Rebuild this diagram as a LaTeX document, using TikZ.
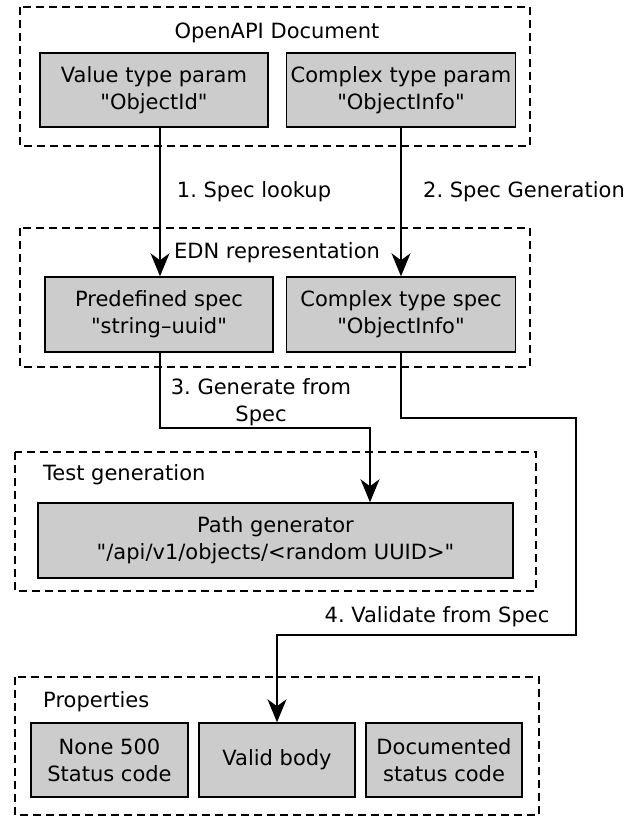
\documentclass[tikz,border=0pt]{standalone}
\usepackage{fontspec}
\newfontfamily\dvs{DejaVu Sans}
\usetikzlibrary{arrows.meta}
\definecolor{boxgray}{RGB}{204,204,204}
\tikzset{
  box/.style={draw=black, fill=boxgray, line width=1.5pt, inner sep=0pt, align=center},
  group/.style={draw=black, line width=1.5pt, dash pattern=on 8pt off 5pt},
  lbl/.style={inner sep=0pt, align=center},
  conn/.style={line width=1.5pt, -{Stealth[length=23pt,width=19pt,inset=7pt]}},
}
\begin{document}
\frenchspacing
\begin{tikzpicture}[x=1pt,y=-1pt,font=\dvs\fontsize{21}{27}\selectfont]
\useasboundingbox (0,0) rectangle (636,817);
% groups
\draw[group] (20,7) rectangle (530,146);
\draw[group] (20,228) rectangle (530,367);
\draw[group] (15,452) rectangle (536,591);
\draw[group] (15,677) rectangle (539,815);
% group titles
\node[lbl] (t1) at (277,33) {OpenAPI Document};
\node[lbl] (t2) at (277,253) {EDN representation};
\node[lbl,anchor=west] (t3) at (43,475) {Test generation};
\node[lbl,anchor=west] (t4) at (43,702) {Properties};
% boxes
\node[box, minimum width=228pt, minimum height=74pt] (A) at (154,90) {Value type param\\"ObjectId"};
\node[box, minimum width=229pt, minimum height=74pt] (B) at (401,90) {Complex type param\\"ObjectInfo"};
\node[box, minimum width=228pt, minimum height=75pt] (C) at (159,314.5) {Predefined spec\\"string–uuid"};
\node[box, minimum width=229pt, minimum height=75pt] (D) at (401,314.5) {Complex type spec\\"ObjectInfo"};
\node[box, minimum width=475pt, minimum height=75pt] (E) at (275.5,540.5) {Path generator\\"/api/v1/objects/<random UUID>"};
\node[box, minimum width=157pt, minimum height=74pt] (F) at (109.5,760) {None 500\\Status code};
\node[box, minimum width=156pt, minimum height=74pt] (G) at (277,760) {Valid body};
\node[box, minimum width=156pt, minimum height=74pt] (H) at (444,760) {Documented\\status code};
% connector labels
\node[lbl] (l1) at (254,192) {1. Spec lookup};
\node[lbl] (l2) at (524,192) {2. Spec Generation};
\node[lbl] (l3) at (261,402) {3. Generate from\\Spec};
\node[lbl] (l4) at (437,617) {4. Validate from Spec};
% connectors
\coordinate (a1) at (160,0);
\draw[conn] (A.south -| a1) -- (C.north -| a1);
\draw[conn] (B.south) -- (D.north);
\coordinate (c1) at (160,428);
\coordinate (c2) at (370,428);
\draw[conn] (C.south -| c1) -- (c1) -- (c2) -- (E.north -| c2);
\coordinate (d1) at (401,418);
\coordinate (d2) at (576,418);
\coordinate (d3) at (576,635);
\coordinate (d4) at (277,635);
\draw[conn] (D.south) -- (d1) -- (d2) -- (d3) -- (d4) -- (G.north);
\end{tikzpicture}
\end{document}
